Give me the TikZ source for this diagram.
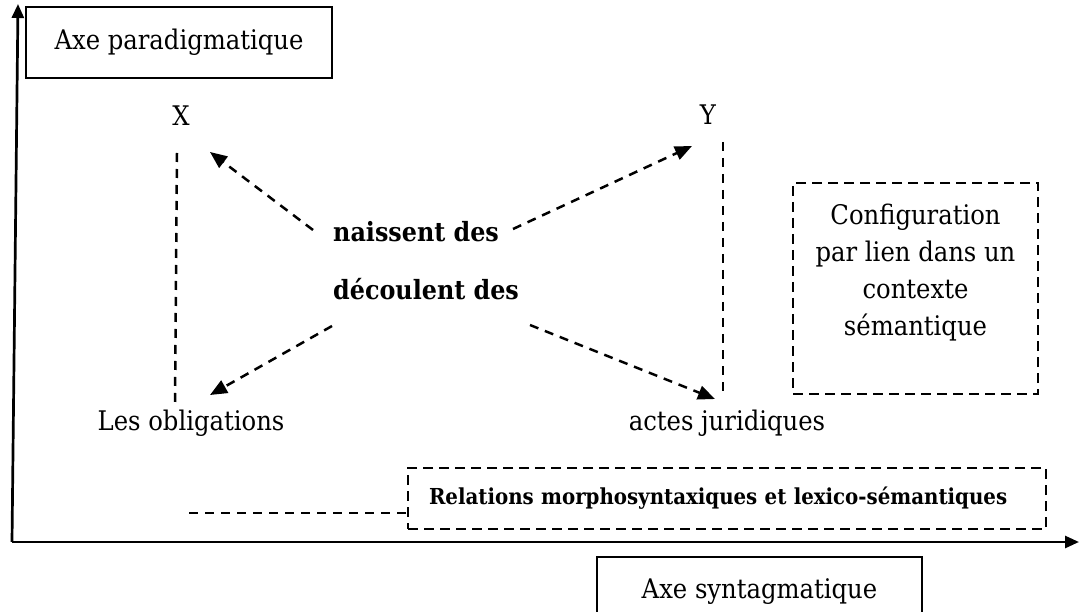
\documentclass[tikz,border=0pt]{standalone}
\usepackage{fontspec}
\setmainfont{DejaVu Serif Condensed}
\usetikzlibrary{arrows.meta,calc}
\begin{document}
\begin{tikzpicture}[x=1pt,y=-1pt,
  txt/.style={font=\fontsize{27}{37}\selectfont, inner sep=0pt},
  btxt/.style={font=\fontsize{26.5}{30}\selectfont\bfseries, inner sep=0pt},
  solidbox/.style={draw, line width=2pt},
  dbox/.style={draw, line width=2.5pt, dash pattern=on 10pt off 6pt},
  dline/.style={line width=2.5pt, dash pattern=on 9pt off 7pt},
  darrow/.style={dline, -{Triangle[length=17pt,width=14pt]}},
  axis/.style={line width=2.7pt, -{Triangle[length=14pt,width=12pt]}}]
\useasboundingbox (0,0) rectangle (1079,612);
% axes
\coordinate (O) at (12,542);
\coordinate (ytip) at (18,4);
\coordinate (xtip) at (1079,542);
\draw[axis] (O) -- (ytip);
\draw[axis] (O) -- (xtip);
% axis labels
\node[txt, solidbox, minimum width=306pt, minimum height=71pt] (para) at (179,42.5) {Axe paradigmatique};
\node[txt, solidbox, minimum width=325pt, minimum height=70pt] (synt) at (759.5,592) {Axe syntagmatique};
% words
\node[txt] (X) at (181,116) {X};
\node[txt] (Y) at (708,115) {Y};
\node[txt] (obl) at (191,423) {Les obligations};
\node[txt] (act) at (727,423) {actes juridiques};
\node[btxt, anchor=base west] (nai) at (333,242) {naissent des};
\node[btxt, anchor=base west] (dec) at (333,300) {découlent des};
% vertical dashed lines
\coordinate (xa) at (177,153);
\coordinate (xb) at (175,405);
\coordinate (ya) at (723,142);
\coordinate (yb) at (723,393);
\draw[dline] (xa) -- (xb);
\draw[dline] (ya) -- (yb);
% arrows
\coordinate (n1) at (313,230);
\coordinate (t1) at (210,152);
\coordinate (n2) at (513,229);
\coordinate (t2) at (692,146);
\coordinate (d1) at (332,326);
\coordinate (t3) at (210,395);
\coordinate (d2) at (530,325);
\coordinate (t4) at (715,399);
\draw[darrow] (n1) -- (t1);
\draw[darrow] (n2) -- (t2);
\draw[darrow] (d1) -- (t3);
\draw[darrow] (d2) -- (t4);
% configuration box
\node[txt, dbox, align=center, minimum width=245pt, minimum height=211pt] (cfg) at (915.5,288.5) {Configuration\\par lien dans un\\contexte\\sémantique\\~};
% relations box
\node[font=\fontsize{22}{26}\selectfont\bfseries, dbox, text width=596pt, align=left, inner xsep=21pt, inner ysep=0pt, minimum height=61pt] (rel) at (727,498.5) {Relations morphosyntaxiques et lexico-sémantiques};
\coordinate (rl) at (189,513);
\draw[dline] (rl) -- (rl -| rel.west);
\end{tikzpicture}
\end{document}
